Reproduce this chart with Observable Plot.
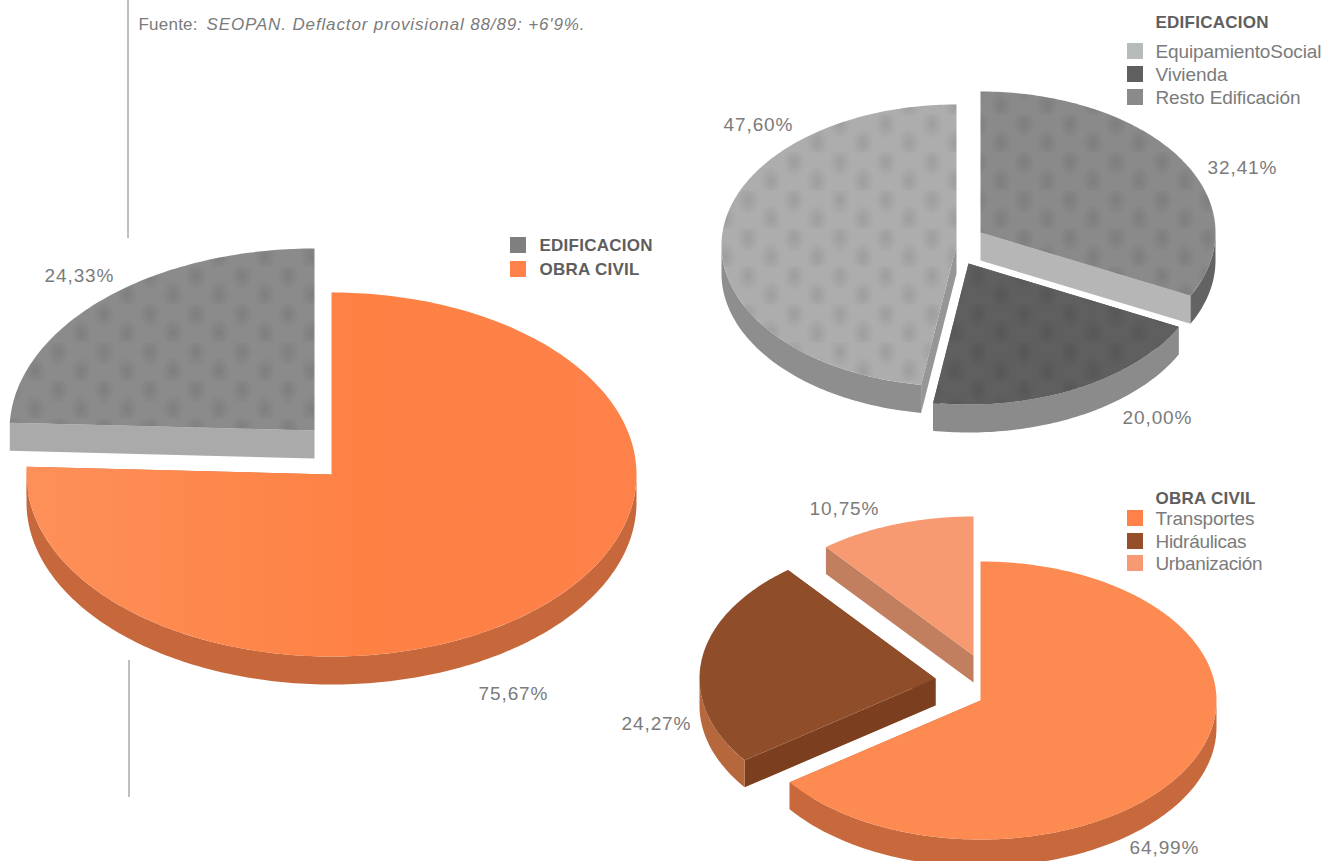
<!DOCTYPE html>
<html lang="es">
<head>
<meta charset="utf-8">
<script src="https://cdn.jsdelivr.net/npm/d3@7"></script>
<script src="https://cdn.jsdelivr.net/npm/@observablehq/plot@0.6"></script>
<style>
html,body{margin:0;padding:0;background:#fff;overflow:hidden}
svg{display:block}
</style>
</head>
<body>
<div id="chart"></div>
<script>
// DATA: shares in per cent, in the clockwise order of the slices, starting at twelve o'clock
const totalNames = ["OBRA CIVIL", "EDIFICACION"];
const totalValues = [75.67, 24.33];
const totalLabels = ["75,67%", "24,33%"];

const edifNames = ["Resto Edificación", "Vivienda", "EquipamientoSocial"];
const edifValues = [32.41, 20.00, 47.60];
const edifLabels = ["32,41%", "20,00%", "47,60%"];

const obraNames = ["Transportes", "Hidráulicas", "Urbanización"];
const obraValues = [64.99, 24.27, 10.75];
const obraLabels = ["64,99%", "24,27%", "10,75%"];

const sourceRoman = "Fuente:";
const sourceItalic = "SEOPAN. Deflactor provisional 88/89: +6'9%.";

// LAYOUT AND STYLE
const W = 1325, H = 861;
const INK = "#7b7b7b", HEAD = "#5e5e5e";
const pies = [
  {names: totalNames, values: totalValues, labels: totalLabels, rx: 305, ry: 182, depth: 28,
   slices: [
    {cx: 331, cy: 474, top: "url(#orangeMain)", side: "#c6683c", face: "#c6683c", lx: 478, ly: 693},
    {cx: 314, cy: 430, top: "#8b8b8b", side: "#8b8b8b", face: "#aaaaaa", lx: 44, ly: 275, dots: true}
   ]},
  {names: edifNames, values: edifValues, labels: edifLabels, rx: 235, ry: 141, depth: 28,
   slices: [
    {cx: 980, cy: 232, top: "#8a8a8a", side: "#636363", face: "#b6b6b6", lx: 1207, ly: 167, dots: true},
    {cx: 968, cy: 263, top: "#5f5f5f", side: "#8b8b8b", face: "#5f5f5f", lx: 1122, ly: 417, dots: true},
    {cx: 956, cy: 245, top: "#adadad", side: "#8e8e8e", face: "#969696", lx: 723, ly: 124, dots: true}
   ]},
  {names: obraNames, values: obraValues, labels: obraLabels, rx: 236, ry: 139, depth: 27,
   slices: [
    {cx: 980, cy: 700, top: "#fd8a50", side: "#c8693d", face: "#c8693d", lx: 1129, ly: 847},
    {cx: 935, cy: 678, top: "#8f4d2a", side: "#b6673c", face: "#7b3f20", lx: 621, ly: 723},
    {cx: 973, cy: 655, top: "#f89a71", side: "#c17f60", face: "#c17f60", lx: 809, ly: 508}
   ]}
];

const legends = [
  {head: null, x: 510, tx: 539, items: [
    {name: "EDIFICACION", fill: "#7f7f7f", y: 245, bold: true},
    {name: "OBRA CIVIL", fill: "#fd8148", y: 269, bold: true}]},
  {head: "EDIFICACION", hx: 1155, hy: 22, x: 1127, tx: 1155, items: [
    {name: "EquipamientoSocial", fill: "#b5bcb9", y: 51},
    {name: "Vivienda", fill: "#5f5f5f", y: 74},
    {name: "Resto Edificación", fill: "#8a8a8a", y: 97}]},
  {head: "OBRA CIVIL", hx: 1155, hy: 498, x: 1127, tx: 1155, items: [
    {name: "Transportes", fill: "#fd8148", y: 518},
    {name: "Hidráulicas", fill: "#964f2b", y: 541},
    {name: "Urbanización", fill: "#f89a71", y: 563}]}
];

// rendered width of each string, so the wide fallback face spans what the reference spans
const textWidths = new Map([
  ["Fuente:", 59], [sourceItalic, 378],
  ["EDIFICACION", 113], ["OBRA CIVIL", 100],
  ["EquipamientoSocial", 166], ["Vivienda", 72], ["Resto Edificación", 145],
  ["Transportes", 99], ["Hidráulicas", 91], ["Urbanización", 107]
]);
const percentWidth = 69;

// GEOMETRY: slice angles come from the values, clockwise from the top
const rad = d => d * Math.PI / 180;
const onRim = (s, rx, ry, a, dz = 0) => ({x: s.cx + rx * Math.sin(rad(a)), y: s.cy - ry * Math.cos(rad(a)) + dz});
const arc = (s, rx, ry, a0, a1, dz = 0) => {
  const n = Math.max(2, Math.ceil(Math.abs(a1 - a0)));
  return d3.range(n + 1).map(i => onRim(s, rx, ry, a0 + (a1 - a0) * i / n, dz));
};
const polys = [];
for (const pie of pies) {
  const total = d3.sum(pie.values);
  let start = 0;
  pie.values.forEach((v, i) => {
    const s = pie.slices[i], end = start + 360 * v / total, {rx, ry, depth} = pie;
    const apex = {x: s.cx, y: s.cy}, low = {x: s.cx, y: s.cy + depth};
    for (const a of [start, end]) {
      const p = onRim(s, rx, ry, a), q = onRim(s, rx, ry, a, depth);
      polys.push({pts: [apex, p, q, low], fill: s.face});
    }
    const f0 = Math.max(start, 90), f1 = Math.min(end, 270);
    if (f1 > f0) polys.push({pts: [...arc(s, rx, ry, f0, f1), ...arc(s, rx, ry, f1, f0, depth)], fill: s.side});
    const topFace = [apex, ...arc(s, rx, ry, start, end)];
    polys.push({pts: topFace, fill: s.top});
    if (s.dots) polys.push({pts: topFace, fill: "url(#halftone)"});
    start = end;
  });
}
const rules = [{x: 127.5, y1: 0, y2: 238}, {x: 128.5, y1: 660, y2: 797}];

const labelRows = pies.flatMap(p => p.labels.map((t, i) => ({t, x: p.slices[i].lx, y: p.slices[i].ly})));
const legendRows = legends.flatMap(l => l.items.map(it => ({...it, x: l.x, tx: l.tx})));
const headRows = legends.filter(l => l.head).map(l => ({t: l.head, x: l.hx, y: l.hy}));

const defs = () => {
  const d = d3.create("svg:defs");
  const g = d.append("radialGradient").attr("id", "soft");
  g.append("stop").attr("offset", "0%").attr("stop-color", "#000").attr("stop-opacity", 0.09);
  g.append("stop").attr("offset", "100%").attr("stop-color", "#000").attr("stop-opacity", 0);
  const p = d.append("pattern").attr("id", "halftone").attr("patternUnits", "userSpaceOnUse")
    .attr("width", 46).attr("height", 38);
  p.append("ellipse").attr("cx", 11.5).attr("cy", 9.5).attr("rx", 11).attr("ry", 15).attr("fill", "url(#soft)");
  p.append("ellipse").attr("cx", 34.5).attr("cy", 28.5).attr("rx", 11).attr("ry", 15).attr("fill", "url(#soft)");
  const o = d.append("linearGradient").attr("id", "orangeMain");
  o.append("stop").attr("offset", "0%").attr("stop-color", "#fd9059");
  o.append("stop").attr("offset", "55%").attr("stop-color", "#fe8144");
  o.append("stop").attr("offset", "100%").attr("stop-color", "#fd8149");
  return d.node();
};

const fam = '"Liberation Sans",sans-serif';
const chart = Plot.plot({
  width: W, height: H, margin: 0,
  x: {domain: [0, W], range: [0, W], axis: null},
  y: {domain: [0, H], range: [0, H], axis: null},
  style: {background: "#fff", fontFamily: fam},
  marks: [
    defs,
    Plot.ruleX(rules, {x: "x", y1: "y1", y2: "y2", stroke: "#808080", strokeWidth: 1}),
    ...polys.map(p => Plot.line(p.pts, {x: "x", y: "y", fill: p.fill, stroke: "none"})),
    Plot.text([sourceRoman], {x: 138, y: 24, text: d => d, textAnchor: "start", fontSize: 17, fill: INK, fontFamily: fam}),
    Plot.text([sourceItalic], {x: 206, y: 24, text: d => d, textAnchor: "start", fontSize: 17, fontStyle: "italic", fill: INK, fontFamily: fam}),
    Plot.text(labelRows, {x: "x", y: "y", text: "t", textAnchor: "start", fontSize: 19, fill: INK, fontFamily: fam}),
    Plot.rect(legendRows, {x1: "x", x2: d => d.x + 16, y1: d => d.y - 8, y2: d => d.y + 8, fill: "fill"}),
    Plot.text(legendRows.filter(d => !d.bold), {x: "tx", y: "y", text: "name", textAnchor: "start", fontSize: 19, fill: INK, fontFamily: fam}),
    Plot.text(legendRows.filter(d => d.bold), {x: "tx", y: "y", text: "name", textAnchor: "start", fontSize: 17, fontWeight: "bold", fill: HEAD, fontFamily: fam}),
    Plot.text(headRows, {x: "x", y: "y", text: "t", textAnchor: "start", fontSize: 17, fontWeight: "bold", fill: HEAD, fontFamily: fam})
  ]
});
document.getElementById("chart").append(chart);
chart.querySelectorAll("text").forEach(t => {
  const s = t.textContent;
  const w = textWidths.get(s) ?? (s.endsWith("%") && s.length === 6 ? percentWidth : null);
  if (w) { t.setAttribute("textLength", w); t.setAttribute("lengthAdjust", "spacing"); }
});
</script>
</body>
</html>
